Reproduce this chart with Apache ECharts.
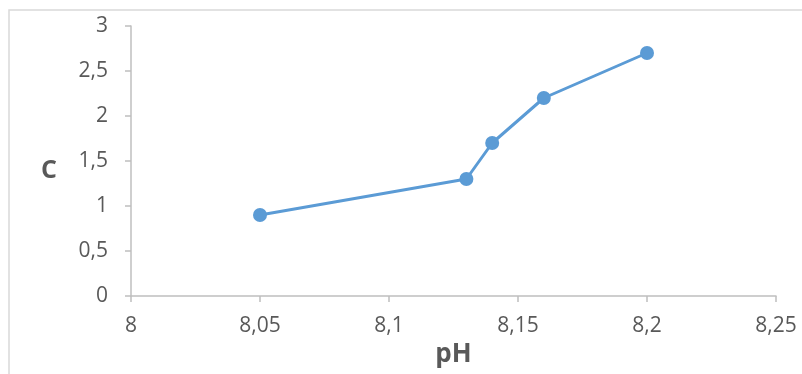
<!DOCTYPE html>
<html>
<head>
<meta charset="utf-8">
<script src="https://cdn.jsdelivr.net/npm/echarts@6/dist/echarts.min.js"></script>
<style>
html,body{margin:0;padding:0;background:#fff;}
#chart{width:802px;height:374px;}
</style>
</head>
<body>
<div id="chart"></div>
<script>
const phValues = [8.05, 8.13, 8.14, 8.16, 8.2];
const cValues = [0.9, 1.3, 1.7, 2.2, 2.7];
const xAxisTitle = 'pH';
const yAxisTitle = 'C';

const fmt = v => String(+v.toFixed(2)).replace('.', ',');
const chart = echarts.init(document.getElementById('chart'));
const textColor = '#595959';
const axisColor = '#bfbfbf';
chart.setOption({
  animation: false,
  backgroundColor: '#fff',
  graphic: [{
    type: 'rect',
    shape: {x: 9, y: 10, width: 820, height: 400},
    style: {fill: 'none', stroke: '#d9d9d9', lineWidth: 1.5},
    silent: true
  }],
  grid: {left: 131, top: 26, right: 26, bottom: 78},
  xAxis: {
    type: 'value', min: 8, max: 8.25, interval: 0.05,
    name: xAxisTitle, nameLocation: 'middle', nameGap: 44,
    nameTextStyle: {fontFamily: 'Open Sans', fontWeight: 'bold', fontSize: 26, color: textColor},
    axisLine: {show: true, lineStyle: {color: axisColor, width: 1.5}},
    axisTick: {show: true, length: 6, lineStyle: {color: axisColor, width: 1.5}},
    axisLabel: {formatter: fmt, fontFamily: 'Open Sans', fontSize: 21, color: textColor, margin: 20},
    splitLine: {show: false}
  },
  yAxis: {
    type: 'value', min: 0, max: 3, interval: 0.5,
    name: yAxisTitle, nameLocation: 'middle', nameGap: 74, nameRotate: 0,
    nameTextStyle: {fontFamily: 'Open Sans', fontWeight: 'bold', fontSize: 25, color: textColor, verticalAlign: 'top', padding: [-3, 0, 0, 0]},
    axisLine: {show: true, lineStyle: {color: axisColor, width: 1.5}},
    axisTick: {show: true, length: 6, lineStyle: {color: axisColor, width: 1.5}},
    axisLabel: {formatter: fmt, fontFamily: 'Open Sans', fontSize: 21, color: textColor, margin: 23},
    splitLine: {show: false}
  },
  series: [{
    type: 'line',
    data: phValues.map((x, i) => [x, cValues[i]]),
    symbol: 'circle', symbolSize: 14,
    lineStyle: {color: '#5b9bd5', width: 3},
    itemStyle: {color: '#5b9bd5'}
  }]
});
</script>
</body>
</html>
